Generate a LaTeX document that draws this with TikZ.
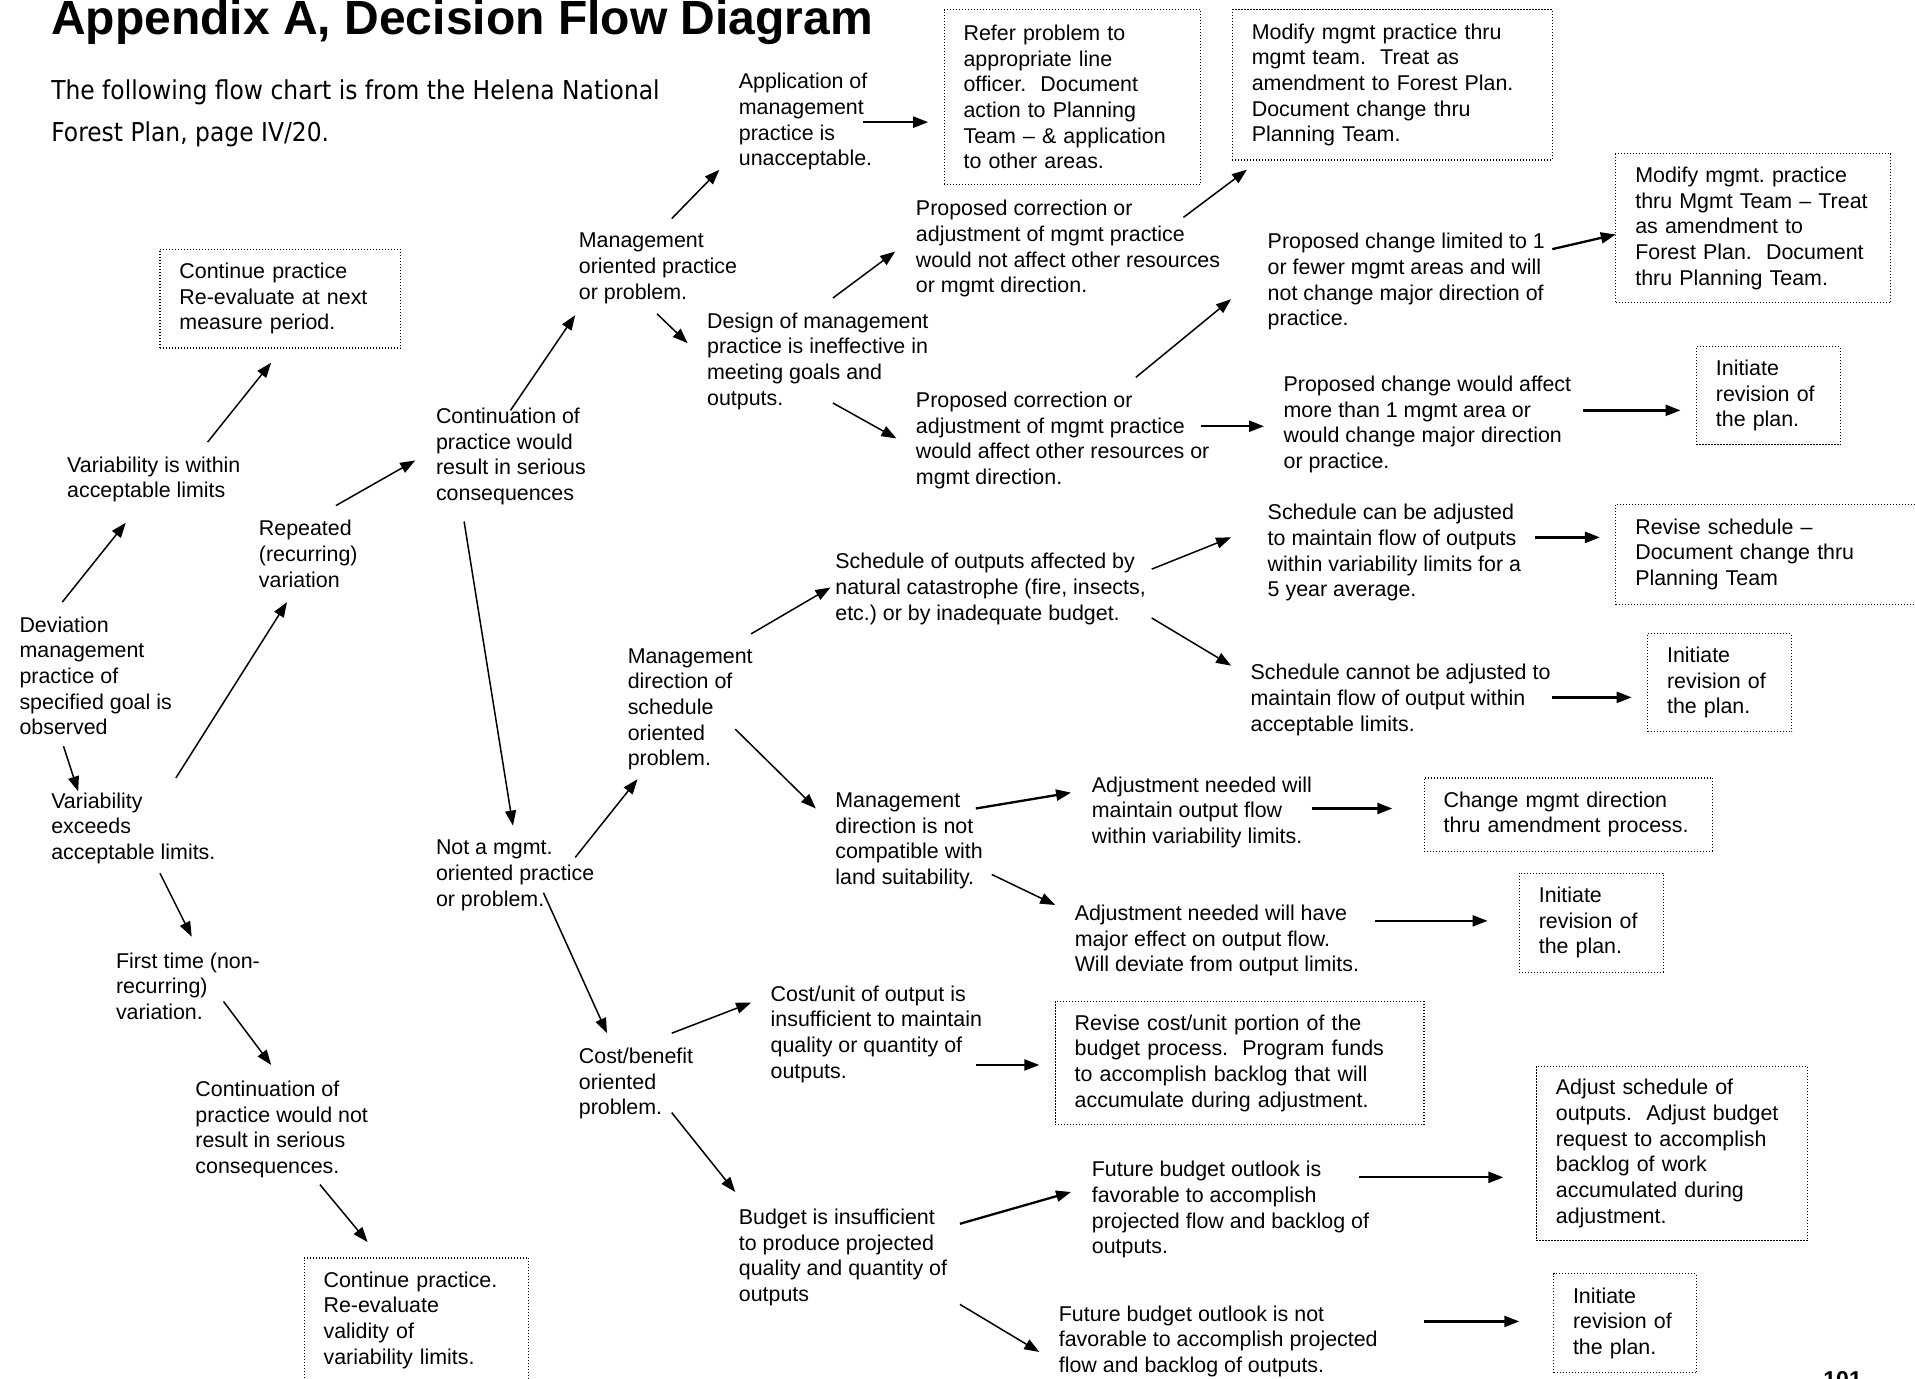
\documentclass[tikz,border=0pt]{standalone}
\usepackage{fontspec}
\setmainfont{Liberation Sans}
\newfontfamily\subfont[FakeStretch=0.9]{DejaVu Sans}
\usetikzlibrary{arrows.meta}

\begin{document}
\frenchspacing
\begin{tikzpicture}[
        x=1.2213pt, y=-1.2213pt,
        every node/.style = {font=\fontsize{21.4}{25.65}\selectfont, align=left, inner sep=0pt, outer sep=0pt, anchor=north west},
        box/.style = {draw, line width=1.1pt, dash pattern=on 1.1pt off 1.9pt, inner xsep=19.5pt, inner ysep=0pt},
        arr/.style = {-{Triangle[length=15pt,width=11pt]}, line width=1.5pt},
        harr/.style = {arr, line width=2.3pt}
    ]
        \useasboundingbox (0,0) rectangle (1568,1129);
        % headings
        \node[font=\bfseries\fontsize{48}{58}\selectfont, anchor=base west] (title) at (42,28) {Appendix A, Decision Flow Diagram};
        \node[font=\subfont\fontsize{26}{42.7}\selectfont] (intro) at (42,65) {The following flow chart is from the Helena National\\Forest Plan, page IV/20.};
        \node[font=\bfseries\fontsize{23}{28}\selectfont, anchor=base west] (page) at (1493,1136) {101};

        % left column
        \node (dev) at (16,505) {Deviation\\management\\practice of\\specified goal is\\observed};
        \node (within) at (55,374) {Variability is within\\acceptable limits};
        \node[box, text width=201.6pt, minimum height=98.9pt] (contA) at (131,204) {Continue practice\\Re-evaluate at next\\measure period.};
        \node (exceeds) at (42,649) {Variability\\exceeds\\acceptable limits.};
        \node (repeated) at (212,426) {Repeated\\(recurring)\\variation};
        \node (firstTime) at (95,780) {First time (non-\\recurring)\\variation.};
        \node (contNot) at (160,885) {Continuation of\\practice would not\\result in serious\\consequences.};
        \node[box, text width=185.7pt, minimum height=124.6pt] (contPr) at (249,1030) {Continue practice.\\Re-evaluate\\validity of\\variability limits.};

        % second column
        \node (contSer) at (357,334) {Continuation of\\practice would\\result in serious\\consequences};
        \node (notMgmt) at (357,688) {Not a mgmt.\\oriented practice\\or problem.};
        \node (mgmtor) at (474,191) {Management\\oriented practice\\or problem.};
        \node (mgmtDir) at (514,531) {Management\\direction of\\schedule\\oriented\\problem.};
        \node (costBen) at (474,858) {Cost/benefit\\oriented\\problem.};

        % third column
        \node (app) at (605,60) {Application of\\management\\practice is\\unacceptable.};
        \node (design) at (579,256) {Design of management\\practice is ineffective in\\meeting goals and\\outputs.};
        \node (schedOut) at (684,453) {Schedule of outputs affected by\\natural catastrophe (fire, insects,\\etc.) or by inadequate budget.};
        \node (mgmtNC) at (684,649) {Management\\direction is not\\compatible with\\land suitability.};
        \node (costUnit) at (631,807) {Cost/unit of output is\\insufficient to maintain\\quality or quantity of\\outputs.};
        \node (budget) at (605,990) {Budget is insufficient\\to produce projected\\quality and quantity of\\outputs};

        % fourth column
        \node[box, text width=217.5pt, minimum height=174.6pt] (refer) at (773,8) {Refer problem to\\appropriate line\\officer.~~Document\\action to Planning\\Team – \& application\\to other areas.};
        \node (propA) at (750,164) {Proposed correction or\\adjustment of mgmt practice\\would not affect other resources\\or mgmt direction.};
        \node (propB) at (750,321) {Proposed correction or\\adjustment of mgmt practice\\would affect other resources or\\mgmt direction.};
        \node (adjMaint) at (894,636) {Adjustment needed will\\maintain output flow\\within variability limits.};
        \node (adjMajor) at (880,741) {Adjustment needed will have\\major effect on output flow.\\Will deviate from output limits.};
        \node[box, text width=329.8pt, minimum height=123.4pt] (reviseCost) at (864,820) {Revise cost/unit portion of the\\budget process.~~Program funds\\to accomplish backlog that will\\accumulate during adjustment.};
        \node (futureFav) at (894,951) {Future budget outlook is\\favorable to accomplish\\projected flow and backlog of\\outputs.};
        \node (futureNot) at (867,1069) {Future budget outlook is not\\favorable to accomplish projected\\flow and backlog of outputs.};

        % fifth column
        \node[box, text width=281pt, minimum height=150.2pt] (modify) at (1009,8) {Modify mgmt practice thru\\mgmt team.~~Treat as\\amendment to Forest Plan.\\Document change thru\\Planning Team.};
        \node (propLim) at (1038,191) {Proposed change limited to 1\\or fewer mgmt areas and will\\not change major direction of\\practice.};
        \node (propMore) at (1051,308) {Proposed change would affect\\more than 1 mgmt area or\\would change major direction\\or practice.};
        \node (schedOK) at (1038,413) {Schedule can be adjusted\\to maintain flow of outputs\\within variability limits for a\\5 year average.};
        \node (schedNo) at (1024,544) {Schedule cannot be adjusted to\\maintain flow of output within\\acceptable limits.};
        \node[box, text width=249.2pt, minimum height=73.3pt] (change) at (1166,637) {Change mgmt direction\\thru amendment process.};

        % right column
        \node[box, text width=236pt, minimum height=149pt] (modifyB) at (1323,126) {Modify mgmt. practice\\thru Mgmt Team – Treat\\as amendment to\\Forest Plan.~~Document\\thru Planning Team.};
        \node[box, text width=105.1pt, minimum height=97.7pt] (initA) at (1389,284) {Initiate\\revision of\\the plan.};
        \node[box, text width=287.1pt, minimum height=100.1pt] (revise) at (1323,413) {Revise schedule –\\Document change thru\\Planning Team};
        \node[box, text width=105.1pt, minimum height=97.7pt] (initB) at (1349,519) {Initiate\\revision of\\the plan.};
        \node[box, text width=105.1pt, minimum height=98.9pt] (initC) at (1244,715) {Initiate\\revision of\\the plan.};
        \node[box, text width=232.1pt, minimum height=174.6pt] (adjSched) at (1258,873) {Adjust schedule of\\outputs.~~Adjust budget\\request to accomplish\\backlog of work\\accumulated during\\adjustment.};
        \node[box, text width=103.9pt, minimum height=98.9pt] (initD) at (1272,1043) {Initiate\\revision of\\the plan.};

        % arrows
        \draw[arr] ([shift={(35,-12)}]dev.north west) -- ([shift={(48,54)}]within.north west);
        \draw[arr] ([shift={(115,-12)}]within.north west) -- ([shift={(91,93)}]contA.north west);
        \draw[arr] ([shift={(36,106)}]dev.north west) -- ([shift={(22,-1)}]exceeds.north west);
        \draw[arr] ([shift={(102,-12)}]exceeds.north west) -- ([shift={(23,67)}]repeated.north west);
        \draw[arr] ([shift={(63,-12)}]repeated.north west) -- ([shift={(-17,43)}]contSer.north west);
        \draw[arr] ([shift={(61,2)}]contSer.north west) -- ([shift={(-3,67)}]mgmtor.north west);
        \draw[arr] ([shift={(76,-12)}]mgmtor.north west) -- ([shift={(-16,79)}]app.north west);
        \draw[arr] ([shift={(64,66)}]mgmtor.north west) -- ([shift={(-16,25)}]design.north west);
        \draw[arr] ([shift={(103,-12)}]design.north west) -- ([shift={(-17,42)}]propA.north west);
        \draw[arr] ([shift={(219,14)}]propA.north west) -- ([shift={(12,131)}]modify.north west);
        \draw[harr] ([shift={(102,40)}]app.north west) -- ([shift={(-13,92)}]refer.north west);
        \draw[arr] ([shift={(103,74)}]design.north west) -- ([shift={(-16,38)}]propB.north west);
        \draw[arr] ([shift={(180,-12)}]propB.north west) -- ([shift={(-30,54)}]propLim.north west);
        \draw[harr] ([shift={(233,13)}]propLim.north west) -- ([shift={(0,66)}]modifyB.north west);
        \draw[harr] ([shift={(233,28)}]propB.north west) -- ([shift={(-16,41)}]propMore.north west);
        \draw[harr] ([shift={(245,28)}]propMore.north west) -- ([shift={(-13,52)}]initA.north west);
        \draw[arr] ([shift={(23,93)}]contSer.north west) -- ([shift={(63,-12)}]notMgmt.north west);
        \draw[arr] ([shift={(114,14)}]notMgmt.north west) -- ([shift={(8,107)}]mgmtDir.north west);
        \draw[arr] ([shift={(101,-12)}]mgmtDir.north west) -- ([shift={(-4,28)}]schedOut.north west);
        \draw[arr] ([shift={(259,13)}]schedOut.north west) -- ([shift={(-30,27)}]schedOK.north west);
        \draw[arr] ([shift={(259,53)}]schedOut.north west) -- ([shift={(-16,1)}]schedNo.north west);
        \draw[harr] ([shift={(219,27)}]schedOK.north west) -- ([shift={(-13,27)}]revise.north west);
        \draw[harr] ([shift={(247,27)}]schedNo.north west) -- ([shift={(-13,52)}]initB.north west);
        \draw[arr] ([shift={(88,66)}]mgmtDir.north west) -- ([shift={(-16,13)}]mgmtNC.north west);
        \draw[harr] ([shift={(115,13)}]mgmtNC.north west) -- ([shift={(-17,13)}]adjMaint.north west);
        \draw[harr] ([shift={(180,26)}]adjMaint.north west) -- ([shift={(-26,25)}]change.north west);
        \draw[arr] ([shift={(128,67)}]mgmtNC.north west) -- ([shift={(-16,0)}]adjMajor.north west);
        \draw[harr] ([shift={(246,13)}]adjMajor.north west) -- ([shift={(-26,39)}]initC.north west);
        \draw[arr] ([shift={(89,66)}]exceeds.north west) -- ([shift={(62,-13)}]firstTime.north west);
        \draw[arr] ([shift={(88,40)}]firstTime.north west) -- ([shift={(62,-13)}]contNot.north west);
        \draw[arr] ([shift={(102,85)}]contNot.north west) -- ([shift={(52,-13)}]contPr.north west);
        \draw[arr] ([shift={(88,43)}]notMgmt.north west) -- ([shift={(23,-12)}]costBen.north west);
        \draw[arr] ([shift={(76,-12)}]costBen.north west) -- ([shift={(-16,14)}]costUnit.north west);
        \draw[harr] ([shift={(168,65)}]costUnit.north west) -- ([shift={(-13,52)}]reviseCost.north west);
        \draw[arr] ([shift={(76,53)}]costBen.north west) -- ([shift={(-3,-14)}]budget.north west);
        \draw[harr] ([shift={(181,12)}]budget.north west) -- ([shift={(-17,25)}]futureFav.north west);
        \draw[harr] ([shift={(219,13)}]futureFav.north west) -- ([shift={(-27,91)}]adjSched.north west);
        \draw[arr] ([shift={(181,78)}]budget.north west) -- ([shift={(-16,38)}]futureNot.north west);
        \draw[harr] ([shift={(299,13)}]futureNot.north west) -- ([shift={(-28,39)}]initD.north west);
    \end{tikzpicture}
\end{document}
